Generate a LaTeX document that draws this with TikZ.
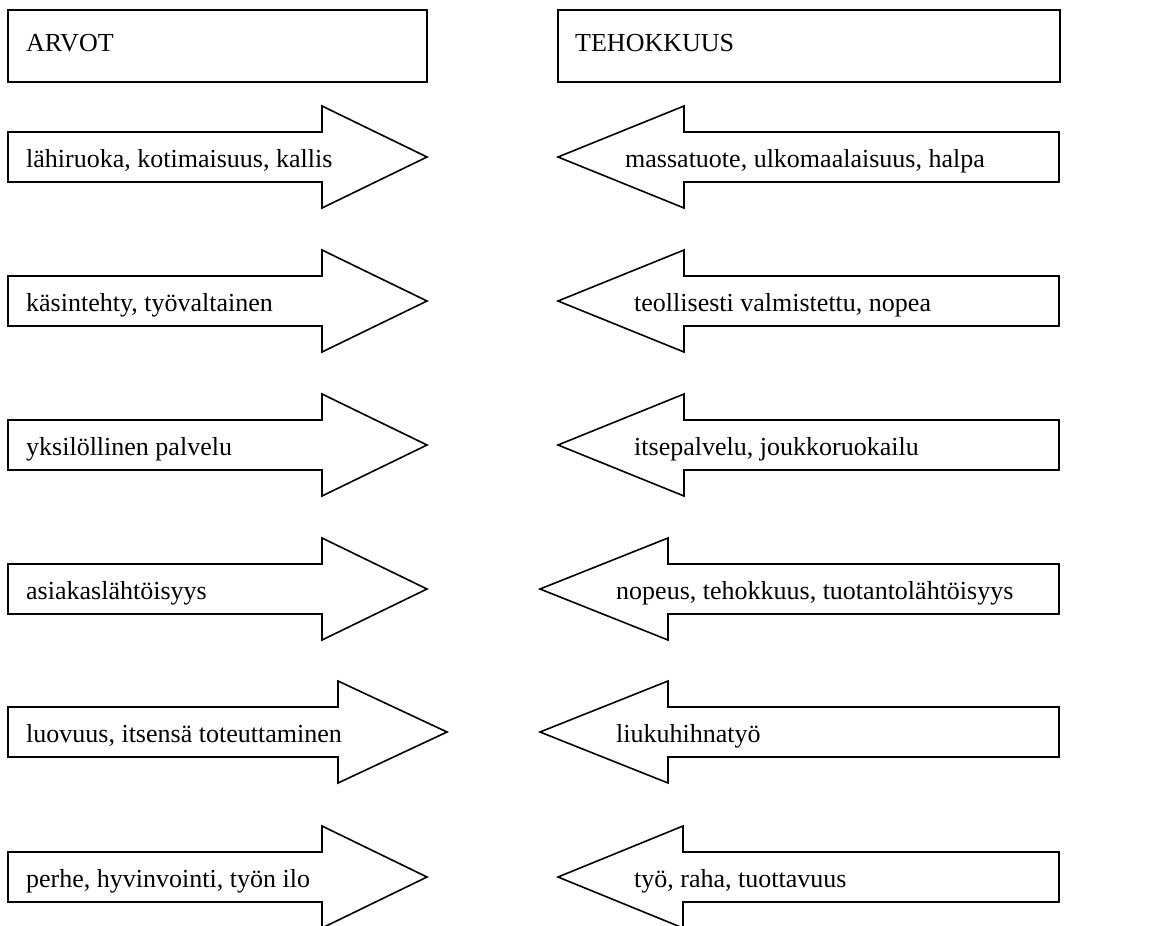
\documentclass[tikz,border=0pt]{standalone}
\usepackage{fontspec}
\setmainfont{Liberation Serif}
\begin{document}
\begin{tikzpicture}[x=1pt,y=-1pt,
  shape line/.style={draw=black,line width=1.6pt,fill=white,line join=miter},
  lbl/.style={anchor=base west,inner sep=0pt,font=\fontsize{26}{30}\selectfont}]
\useasboundingbox (0,0) rectangle (1167,926);
% header boxes
\draw[shape line] (8,10) rectangle (427,82);
\node[lbl] (arvot) at (26,51) {ARVOT};
\draw[shape line] (558,10) rectangle (1060,82);
\node[lbl] (tehok) at (575,51) {TEHOKKUUS};
% right-pointing arrows: y, head base x, tip x, label
\foreach \y/\b/\t/\txt [count=\i] in {
  157/322/427/{lähiruoka, kotimaisuus, kallis},
  301/322/427/{käsintehty, työvaltainen},
  445/322/427/{yksilöllinen palvelu},
  589/322/427/{asiakaslähtöisyys},
  732/338/447/{luovuus, itsensä toteuttaminen},
  877/322/427/{perhe, hyvinvointi, työn ilo}}{
  \draw[shape line] (8,\y-25) -- (\b,\y-25) -- (\b,\y-51) -- (\t,\y) -- (\b,\y+51) -- (\b,\y+25) -- (8,\y+25) -- cycle;
  \node[lbl] (L\i) at (26,\y+10) {\txt};
}
% left-pointing arrows: y, tip x, head base x, text x, label
\foreach \y/\t/\b/\tx/\txt [count=\i] in {
  157/558/684/625/{massatuote, ulkomaalaisuus, halpa},
  301/558/684/634/{teollisesti valmistettu, nopea},
  445/558/684/634/{itsepalvelu, joukkoruokailu},
  589/540/668/616/{nopeus, tehokkuus, tuotantolähtöisyys},
  732/540/668/616/{liukuhihnatyö},
  877/558/683/634/{työ, raha, tuottavuus}}{
  \draw[shape line] (1059,\y-25) -- (\b,\y-25) -- (\b,\y-51) -- (\t,\y) -- (\b,\y+51) -- (\b,\y+25) -- (1059,\y+25) -- cycle;
  \node[lbl] (R\i) at (\tx,\y+10) {\txt};
}
\end{tikzpicture}
\end{document}
